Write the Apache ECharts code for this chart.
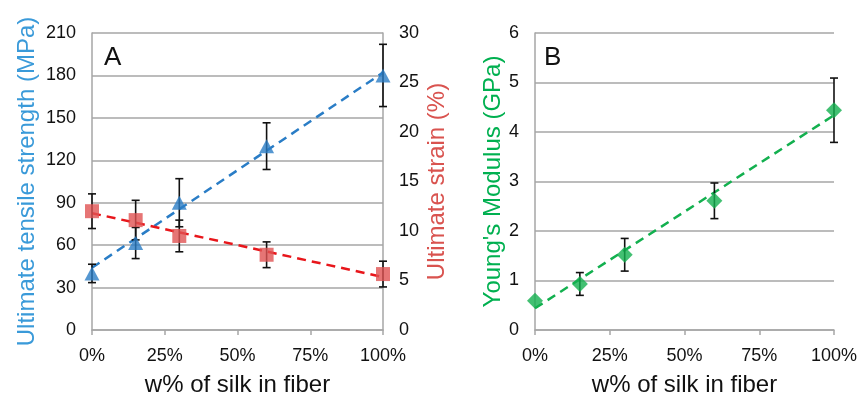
<!DOCTYPE html>
<html>
<head>
<meta charset="utf-8">
<script src="https://cdn.jsdelivr.net/npm/echarts@6/dist/echarts.min.js"></script>
<style>
  html, body { margin: 0; padding: 0; background: #fff; }
  #chart { width: 860px; height: 396px; }
</style>
</head>
<body>
<div id="chart"></div>
<script>
// silk content of the fiber, % by weight
var silkPct = [0, 15, 30, 60, 100];

// panel A, left axis
var strengthMPa = [40, 61.5, 90, 130, 180];
var strengthErr = [6.5, 11, 17, 16.5, 22];
// panel A, right axis
var strainPct = [12, 11.1, 9.5, 7.6, 5.65];
var strainErr = [1.75, 2, 1.6, 1.3, 1.3];
// panel B
var modulusGPa = [0.59, 0.93, 1.52, 2.61, 4.44];
var modulusErr = [0, 0.23, 0.33, 0.36, 0.65];

// dashed trendlines, read at 0% and 100%
var trendX = [0, 100];
var strengthTrend = [44, 182];
var strainTrend = [11.8, 5.35];
var modulusTrend = [0.44, 4.34];

var xTicks = [0, 25, 50, 75, 100];

var FONT = '"Liberation Sans", Arial, sans-serif';
var GRID_GREY = '#a6a6a6';
var BLUE = '#2a7dc6', BLUE_TXT = '#3a9ad9';
var RED = '#e05252', RED_LINE = '#e8161b', RED_TXT = '#d9534f';
var GREEN = '#13b04f', GREEN_TXT = '#00b050';

function pairs(xs, ys) {
  var out = [];
  for (var i = 0; i < xs.length; i++) out.push([xs[i], ys[i]]);
  return out;
}
function errRows(xs, ys, es) {
  var out = [];
  for (var i = 0; i < xs.length; i++) {
    if (es[i] > 0) out.push([xs[i], ys[i] - es[i], ys[i] + es[i]]);
  }
  return out;
}

// error bar with caps, drawn through the axes
function renderErr(params, api) {
  var lo = api.coord([api.value(0), api.value(1)]);
  var hi = api.coord([api.value(0), api.value(2)]);
  var cap = 4;
  var st = { stroke: '#111', lineWidth: 1.6 };
  return {
    type: 'group',
    children: [
      { type: 'line', shape: { x1: lo[0], y1: lo[1], x2: hi[0], y2: hi[1] }, style: st },
      { type: 'line', shape: { x1: lo[0] - cap, y1: lo[1], x2: lo[0] + cap, y2: lo[1] }, style: st },
      { type: 'line', shape: { x1: hi[0] - cap, y1: hi[1], x2: hi[0] + cap, y2: hi[1] }, style: st }
    ]
  };
}

function xAxisCfg(gridIndex) {
  return {
    type: 'value', gridIndex: gridIndex,
    min: xTicks[0], max: xTicks[xTicks.length - 1], interval: 25,
    name: 'w% of silk in fiber', nameLocation: 'middle', nameGap: 43,
    nameTextStyle: { color: '#111', fontSize: 24, fontFamily: FONT },
    axisLine: { show: true, lineStyle: { color: GRID_GREY, width: 1.5 } },
    axisTick: { show: true, length: 5, lineStyle: { color: GRID_GREY, width: 1.5 } },
    axisLabel: { color: '#111', fontSize: 18, fontFamily: FONT, margin: 17,
                 formatter: '{value}%' },
    splitLine: { show: false }
  };
}

function yAxisCfg(gridIndex, min, max, step, name, color, pos, gap, grid) {
  return {
    type: 'value', gridIndex: gridIndex, position: pos,
    min: min, max: max, interval: step,
    name: name, nameLocation: 'middle', nameGap: gap, nameRotate: 90,
    nameTextStyle: { color: color, fontSize: 24, fontFamily: FONT },
    axisLine: { show: true, lineStyle: { color: GRID_GREY, width: 1.5 } },
    axisTick: { show: false },
    axisLabel: { color: '#111', fontSize: 18, fontFamily: FONT, margin: 16 },
    splitLine: { show: grid, lineStyle: { color: GRID_GREY, width: 1.5 } }
  };
}

var chart = echarts.init(document.getElementById('chart'), null, { renderer: 'canvas' });

var option = {
  backgroundColor: '#fff',
  animation: false,
  title: [
    { text: 'A', left: 99, top: 40, textStyle: { fontSize: 26, fontWeight: 'normal', color: '#111', fontFamily: FONT } },
    { text: 'B', left: 539, top: 40, textStyle: { fontSize: 26, fontWeight: 'normal', color: '#111', fontFamily: FONT } }
  ],
  grid: [
    { left: 92, top: 33, width: 291, height: 297, outerBoundsMode: 'none' },
    { left: 535, top: 33, width: 299, height: 297, outerBoundsMode: 'none' }
  ],
  xAxis: [xAxisCfg(0), xAxisCfg(1)],
  yAxis: [
    yAxisCfg(0, 0, 210, 30, 'Ultimate tensile strength (MPa)', BLUE_TXT, 'left', 53, true),
    yAxisCfg(0, 0, 30, 5, 'Ultimate strain (%)', RED_TXT, 'right', 42, false),
    yAxisCfg(1, 0, 6, 1, "Young's Modulus (GPa)", GREEN_TXT, 'left', 30, true)
  ],
  series: [
    // trendlines
    { type: 'line', xAxisIndex: 0, yAxisIndex: 0, data: pairs(trendX, strengthTrend),
      symbol: 'none', z: 2, lineStyle: { color: BLUE, width: 2.5, type: [9, 6] } },
    { type: 'line', xAxisIndex: 0, yAxisIndex: 1, data: pairs(trendX, strainTrend),
      symbol: 'none', z: 2, lineStyle: { color: RED_LINE, width: 2.5, type: [9, 6] } },
    { type: 'line', xAxisIndex: 1, yAxisIndex: 2, data: pairs(trendX, modulusTrend),
      symbol: 'none', z: 2, lineStyle: { color: GREEN, width: 2.5, type: [9, 6] } },
    // error bars
    { type: 'custom', xAxisIndex: 0, yAxisIndex: 0, renderItem: renderErr,
      data: errRows(silkPct, strengthMPa, strengthErr), z: 3, silent: true },
    { type: 'custom', xAxisIndex: 0, yAxisIndex: 1, renderItem: renderErr,
      data: errRows(silkPct, strainPct, strainErr), z: 3, silent: true },
    { type: 'custom', xAxisIndex: 1, yAxisIndex: 2, renderItem: renderErr,
      data: errRows(silkPct, modulusGPa, modulusErr), z: 3, silent: true },
    // markers
    { type: 'scatter', xAxisIndex: 0, yAxisIndex: 1, data: pairs(silkPct, strainPct),
      symbol: 'rect', symbolSize: 14, z: 4, itemStyle: { color: RED } },
    { type: 'scatter', xAxisIndex: 0, yAxisIndex: 0, data: pairs(silkPct, strengthMPa),
      symbol: 'triangle', symbolSize: [15, 14], z: 4, itemStyle: { color: BLUE } },
    { type: 'scatter', xAxisIndex: 1, yAxisIndex: 2, data: pairs(silkPct, modulusGPa),
      symbol: 'diamond', symbolSize: [16, 16], z: 4, itemStyle: { color: GREEN } }
  ]
};

chart.setOption(option);
</script>
</body>
</html>
